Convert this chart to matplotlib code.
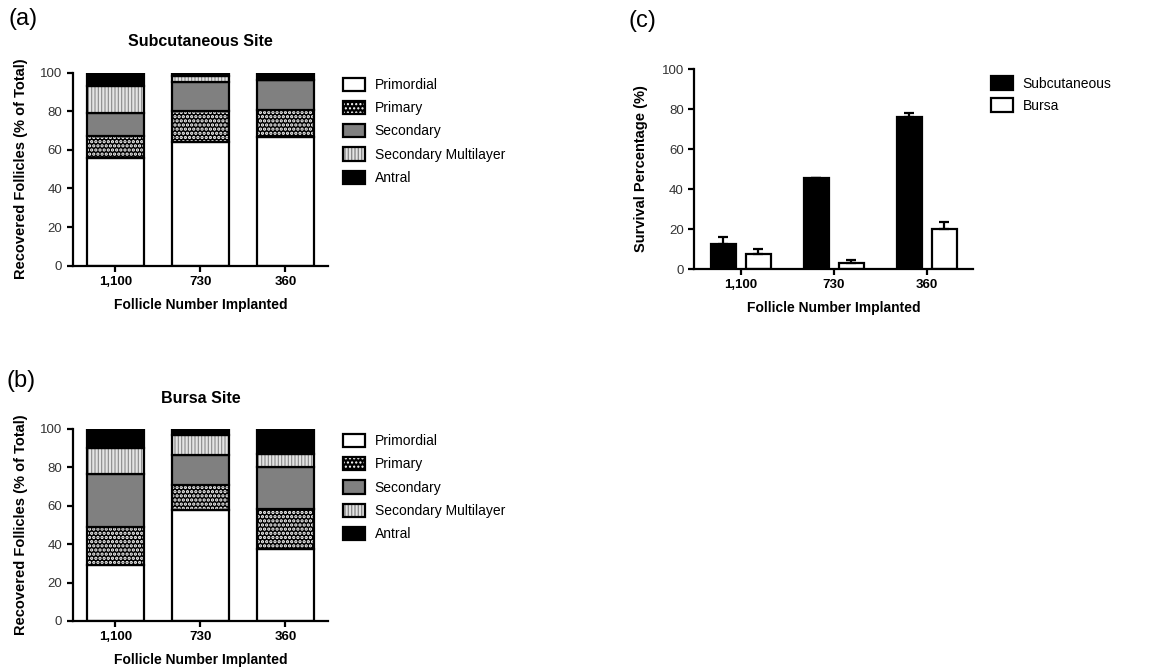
import matplotlib
matplotlib.use("Agg")
import matplotlib.pyplot as plt
from matplotlib.patches import Patch
import numpy as np

plt.rcParams['font.family'] = ['Liberation Sans', 'DejaVu Sans']

# ---- data ----
groups = ['1,100', '730', '360']
stages = ['Primordial', 'Primary', 'Secondary', 'Secondary Multilayer', 'Antral']

subq_primordial = [55.6, 63.9, 66.8]
subq_primary = [11.6, 16.4, 13.9]
subq_secondary = [12.1, 15.0, 15.5]
subq_sec_multi = [13.8, 3.1, 0.0]
subq_antral = [6.9, 1.6, 3.8]

bursa_primordial = [29.2, 57.8, 37.5]
bursa_primary = [19.9, 13.0, 20.8]
bursa_secondary = [27.3, 15.7, 21.7]
bursa_sec_multi = [13.5, 10.4, 7.0]
bursa_antral = [10.1, 3.1, 13.0]

subq_survival = [12.5, 45.3, 76.2]
subq_survival_err = [3.3, 0.3, 1.6]
bursa_survival = [7.3, 3.2, 19.8]
bursa_survival_err = [2.5, 1.1, 3.9]

# (face, hatch, hatch colour, hatch linewidth) for each stage
stage_styles = [
    ('white', None, 'black', 1.0),
    ('black', '....', 'white', 1.6),
    ('#808080', None, 'black', 1.0),
    ('#e4e4e4', '|||||', '#8a8a8a', 0.8),
    ('black', None, 'black', 1.0),
]

LW = 1.6
TICK_FS = 9.5
LABEL_FS = 10


def style_axes(ax):
    for s in ['top', 'right']:
        ax.spines[s].set_visible(False)
    for s in ['left', 'bottom']:
        ax.spines[s].set_linewidth(LW)
    ax.tick_params(axis='both', width=LW, length=4, direction='out')
    ax.tick_params(axis='y', labelsize=TICK_FS, labelcolor='#333333')
    ax.tick_params(axis='x', labelsize=TICK_FS)
    for t in ax.get_xticklabels():
        t.set_fontweight('bold')
    ax.set_ylim(0, 100)
    ax.set_yticks([0, 20, 40, 60, 80, 100])
    ax.set_xlim(-0.5, 2.5)


def stacked_panel(ax, title, layers):
    x = np.arange(len(groups))
    bottom = np.zeros(len(groups))
    for vals, (face, hatch, hc, hlw) in zip(layers, stage_styles):
        vals = np.array(vals)
        with plt.rc_context({'hatch.linewidth': hlw}):
            ax.bar(x, vals, 0.67, bottom=bottom, color=face, hatch=hatch,
                   edgecolor=hc, linewidth=0)
        ax.bar(x, vals, 0.67, bottom=bottom, fill=False,
               edgecolor='black', linewidth=LW)
        bottom += vals
    ax.set_xticks(x)
    ax.set_xticklabels(groups)
    style_axes(ax)
    ax.set_title(title, fontsize=11.5, fontweight='bold', pad=19)
    ax.set_xlabel('Follicle Number Implanted', fontsize=LABEL_FS, fontweight='bold', labelpad=7)
    ax.set_ylabel('Recovered Follicles (% of Total)', fontsize=10.5, fontweight='bold', labelpad=9)

    handles = []
    for face, hatch, hc, hlw in stage_styles:
        with plt.rc_context({'hatch.linewidth': hlw}):
            fill = Patch(facecolor=face, hatch=hatch, edgecolor=hc, linewidth=0)
        handles.append((fill, Patch(fill=False, edgecolor='black', linewidth=LW)))
    ax.legend(handles, stages, loc='upper left', bbox_to_anchor=(1.06, 0.975),
              frameon=False, fontsize=10, handlelength=1.55, handleheight=1.1,
              labelspacing=0.64, handletextpad=0.7, borderpad=0, borderaxespad=0)


fig = plt.figure(figsize=(11.63, 6.68), dpi=100)

ax_a = fig.add_axes([0.0625, 0.6023, 0.2195, 0.2889])
stacked_panel(ax_a, 'Subcutaneous Site',
              [subq_primordial, subq_primary, subq_secondary, subq_sec_multi, subq_antral])

ax_b = fig.add_axes([0.0625, 0.0704, 0.2195, 0.2874])
stacked_panel(ax_b, 'Bursa Site',
              [bursa_primordial, bursa_primary, bursa_secondary, bursa_sec_multi, bursa_antral])

# ---- panel c: grouped bars with upward error bars ----
ax_c = fig.add_axes([0.597, 0.5973, 0.2399, 0.2994])
x = np.arange(len(groups))
w = 0.27
off = 0.19
ax_c.bar(x - off, subq_survival, w, color='black', edgecolor='black', linewidth=LW,
         label='Subcutaneous')
ax_c.bar(x + off, bursa_survival, w, color='white', edgecolor='black', linewidth=LW,
         label='Bursa')
ax_c.errorbar(x - off, subq_survival, yerr=[np.zeros(3), subq_survival_err], fmt='none',
              ecolor='black', elinewidth=LW, capsize=3.5, capthick=LW)
ax_c.errorbar(x + off, bursa_survival, yerr=[np.zeros(3), bursa_survival_err], fmt='none',
              ecolor='black', elinewidth=LW, capsize=3.5, capthick=LW)
ax_c.set_xticks(x)
ax_c.set_xticklabels(groups)
style_axes(ax_c)
ax_c.set_xlabel('Follicle Number Implanted', fontsize=LABEL_FS, fontweight='bold', labelpad=7)
ax_c.set_ylabel('Survival Percentage (%)', fontsize=10.5, fontweight='bold', labelpad=10)
ax_c.legend(loc='upper left', bbox_to_anchor=(1.062, 0.965), frameon=False, fontsize=10,
            handlelength=1.6, handleheight=1.2, labelspacing=0.5, handletextpad=0.7,
            borderpad=0, borderaxespad=0)

# panel letters
fig.text(8 / 1163, 1 - 8 / 668, '(a)', fontsize=17, va='top', ha='left')
fig.text(6 / 1163, 1 - 370 / 668, '(b)', fontsize=17, va='top', ha='left')
fig.text(628 / 1163, 1 - 10 / 668, '(c)', fontsize=17, va='top', ha='left')

fig.savefig('out.png', dpi=100)
